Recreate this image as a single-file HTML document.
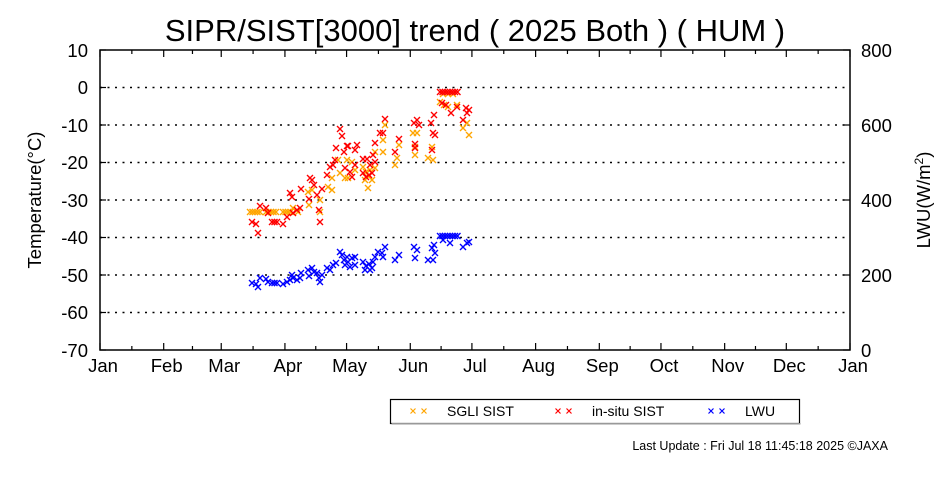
<!DOCTYPE html>
<html><head><meta charset="utf-8"><style>
html,body{margin:0;padding:0;background:#fff;width:950px;height:480px;overflow:hidden}
svg{display:block;font-family:"Liberation Sans",sans-serif}
</style></head><body>
<svg id="s" width="950" height="480" viewBox="0 0 950 480" xmlns="http://www.w3.org/2000/svg">
<text x="475" y="41" font-size="31" text-anchor="middle">SIPR/SIST[3000] trend ( 2025 Both ) ( HUM )</text>
<g stroke="#000" stroke-width="1.5" stroke-dasharray="2,5.5">
<line x1="100" y1="87.5" x2="850" y2="87.5"/><line x1="100" y1="125" x2="850" y2="125"/>
<line x1="100" y1="162.5" x2="850" y2="162.5"/><line x1="100" y1="200" x2="850" y2="200"/>
<line x1="100" y1="237.5" x2="850" y2="237.5"/><line x1="100" y1="275" x2="850" y2="275"/>
<line x1="100" y1="312.5" x2="850" y2="312.5"/>
</g>
<rect x="100" y="50" width="750" height="300" fill="none" stroke="#000" stroke-width="1.5"/>
<g id="ticks" stroke="#000" stroke-width="1.2"></g>
<g font-size="18.5" text-anchor="end">
<text x="88" y="57">10</text><text x="88" y="94">0</text><text x="88" y="132">-10</text>
<text x="88" y="169">-20</text><text x="88" y="207">-30</text><text x="88" y="244">-40</text>
<text x="88" y="282">-50</text><text x="88" y="319">-60</text><text x="88" y="357">-70</text>
</g>
<g font-size="18.5" text-anchor="start">
<text x="861" y="57">800</text><text x="861" y="132">600</text><text x="861" y="207">400</text>
<text x="861" y="282">200</text><text x="861" y="357">0</text>
</g>
<g font-size="18.5" text-anchor="middle" id="months"></g>
<text transform="translate(41,200) rotate(-90)" font-size="18.5" text-anchor="middle">Temperature(°C)</text>
<text transform="translate(930,200) rotate(-90)" font-size="18.5" text-anchor="middle">LWU(W/m<tspan baseline-shift="super" font-size="12">2</tspan>)</text>
<g id="pts" stroke-width="1.4"></g>
<rect x="390.5" y="399.5" width="409" height="24" fill="none" stroke="#000" stroke-width="1.2"/>
<rect x="391.5" y="423" width="409" height="1.5" fill="#999"/>
<g id="leg" stroke-width="1.2"></g>
<g font-size="14">
<text x="447" y="416">SGLI SIST</text><text x="592" y="416">in-situ SIST</text><text x="745" y="416">LWU</text>
</g>
<text x="888" y="450" font-size="12.5" text-anchor="end">Last Update : Fri Jul 18 11:45:18 2025  ©JAXA</text>
</svg>
<script>
var NS="http://www.w3.org/2000/svg";
function el(p,t,a){var e=document.createElementNS(NS,t);for(var k in a)e.setAttribute(k,a[k]);p.appendChild(e);return e;}
var tk=document.getElementById("ticks"),mo=document.getElementById("months");
var names=["Jan","Feb","Mar","Apr","May","Jun","Jul","Aug","Sep","Oct","Nov","Dec","Jan"];
var days=[0,31,59,90,120,151,181,212,243,273,304,334,365];
for(var i=0;i<13;i++){var x=100+days[i]*750/365;
 el(tk,"line",{x1:x,y1:350,x2:x,y2:343});el(tk,"line",{x1:x,y1:50,x2:x,y2:57});
 el(mo,"text",{x:x+3,y:372}).textContent=names[i];
 if(i<12){var xm=100+(days[i]+days[i+1])/2*750/365;
 el(tk,"line",{x1:xm,y1:350,x2:xm,y2:346});el(tk,"line",{x1:xm,y1:50,x2:xm,y2:54});}}
for(var j=0;j<9;j++){var y=50+j*37.5;el(tk,"line",{x1:100,y1:y,x2:106,y2:y});}
for(var j=0;j<5;j++){var y=50+j*75;el(tk,"line",{x1:850,y1:y,x2:843,y2:y});}
var P=document.getElementById("pts");
function X(g,x,y,c,s){s=s||3;el(g,"path",{d:"M"+(x-s)+" "+(y-s)+"L"+(x+s)+" "+(y+s)+"M"+(x-s)+" "+(y+s)+"L"+(x+s)+" "+(y-s),stroke:c,fill:"none"});}
function rng(a,b,y,c,step){for(var x=a;x<=b;x+=step||2.5)X(P,x,y,c);}
var B="#0000ff",R="#ff0000",O="#ffa500";
[[252,283],[256,284],[258,287],[260,278],[266,279],[268,282],[283,284],[287,282],[290,280],[293,278],[292,275],[297,280],[300,278],[301,273],[308,270],[312,268],[314,272],[309,276],[317,273],[319,278],[320,282],[322,275],[327,268],[330,270],[333,265],[336,263],[340,252],[342,255],[344,260],[345,265],[348,262],[350,267],[347,257],[352,258],[355,257],[355,265],[363,262],[366,266],[369,264],[372,268],[365,270],[370,270],[373,262],[375,257],[378,252],[382,253],[385,247],[383,257],[395,260],[399,255],[414,247],[417,250],[415,258],[428,260],[433,260],[432,248],[435,253],[434,245],[443,240],[450,243],[463,247],[467,243],[469,242]].forEach(function(p){X(P,p[0],p[1],B)});
rng(272,278,283,B);rng(440,458,236,B);
rng(250,261,212,O);rng(266,278,212,O);rng(283,292,212,O);
[[293,208],[298,212],[308,192],[312,190],[309,205],[320,200],[320,212],[328,187],[332,190],[332,178],[338,160],[340,173],[345,178],[348,178],[347,160],[352,162],[355,170],[363,167],[366,172],[369,176],[372,180],[365,180],[370,170],[368,188],[375,168],[375,152],[383,140],[383,152],[385,125],[395,165],[397,158],[399,145],[413,133],[417,133],[415,155],[415,147],[428,158],[433,160],[432,147],[440,102],[444,105],[448,107],[443,94],[448,94],[453,94],[457,105],[463,128],[467,123],[469,135]].forEach(function(p){X(P,p[0],p[1],O)});
[[252,222],[256,224],[258,233],[260,206],[266,208],[268,213],[283,224],[287,217],[290,193],[292,197],[293,213],[297,210],[300,208],[301,189],[309,199],[310,178],[312,180],[314,185],[317,195],[319,210],[320,222],[322,189],[327,175],[330,167],[333,165],[335,160],[336,148],[340,129],[342,136],[344,152],[347,146],[348,146],[345,168],[350,172],[352,177],[355,150],[357,145],[355,165],[363,159],[367,159],[363,173],[366,177],[369,175],[372,173],[370,165],[373,155],[375,162],[375,143],[380,133],[383,133],[385,119],[395,152],[399,139],[414,123],[417,120],[419,125],[415,144],[415,148],[431,123],[433,133],[435,135],[432,150],[434,115],[442,103],[446,105],[451,113],[457,107],[463,120],[466,108],[469,110],[467,113]].forEach(function(p){X(P,p[0],p[1],R)});
rng(272,278,222,R);rng(440,458,92,R);
var L=document.getElementById("leg");
X(L,413,411,O,2.5);X(L,424,411,O,2.5);X(L,558,411,R,2.5);X(L,569,411,R,2.5);X(L,711,411,B,2.5);X(L,722,411,B,2.5);
</script>
</body></html>
